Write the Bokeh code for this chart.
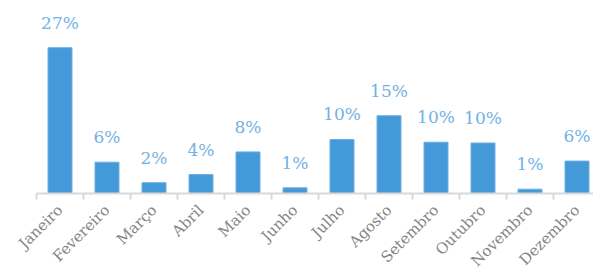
from math import pi
from bokeh.plotting import figure
from bokeh.models import Range1d, FixedTicker, ColumnDataSource
from bokeh.core.properties import value
from bokeh.embed import file_html
from bokeh.resources import INLINE

months = ["Janeiro", "Fevereiro", "Março", "Abril", "Maio", "Junho",
          "Julho", "Agosto", "Setembro", "Outubro", "Novembro", "Dezembro"]
shares = [27.0, 5.8, 2.0, 3.5, 7.7, 1.05, 10.0, 14.4, 9.5, 9.35, 0.8, 6.0]
share_labels = ["27%", "6%", "2%", "4%", "8%", "1%", "10%", "15%", "10%", "10%", "1%", "6%"]

centers = [i + 0.5 for i in range(len(months))]
bounds = list(range(len(months) + 1))

src = ColumnDataSource(dict(x=centers, top=shares, lab=share_labels))

p = figure(width=593, height=280, output_backend="svg", toolbar_location=None,
           x_range=Range1d(0, 11.851), y_range=Range1d(0, 35.74),
           min_border_left=36, min_border_right=0, min_border_top=0,
           min_border_bottom=87)
p.outline_line_color = None
p.grid.visible = False
p.yaxis.visible = False
p.background_fill_color = "white"

p.vbar(x="x", top="top", bottom=0, width=0.51, source=src,
       fill_color="#4499d8", line_color="#6aaee3", line_width=1)

p.text(x="x", y="top", text="lab", source=src, y_offset=-25,
       text_align="center", text_baseline="alphabetic",
       text_color="#72b2e4", text_font=value("DejaVu Serif"),
       text_font_size="17px")

ax = p.xaxis[0]
ax.ticker = FixedTicker(ticks=centers, minor_ticks=bounds)
ax.major_label_overrides = {c: m for c, m in zip(centers, months)}
ax.major_label_orientation = pi / 4
ax.major_tick_line_color = None
ax.major_tick_out = 0
ax.major_tick_in = 0
ax.minor_tick_out = 6
ax.minor_tick_in = 0
ax.minor_tick_line_color = "#d9d9d9"
ax.minor_tick_line_width = 2
ax.axis_line_color = "#d9d9d9"
ax.axis_line_width = 2
ax.major_label_text_font = "DejaVu Serif"
ax.major_label_text_font_size = "15px"
ax.major_label_text_color = "#858585"
ax.major_label_standoff = 8

open("out.html", "w").write(file_html(p, INLINE))
